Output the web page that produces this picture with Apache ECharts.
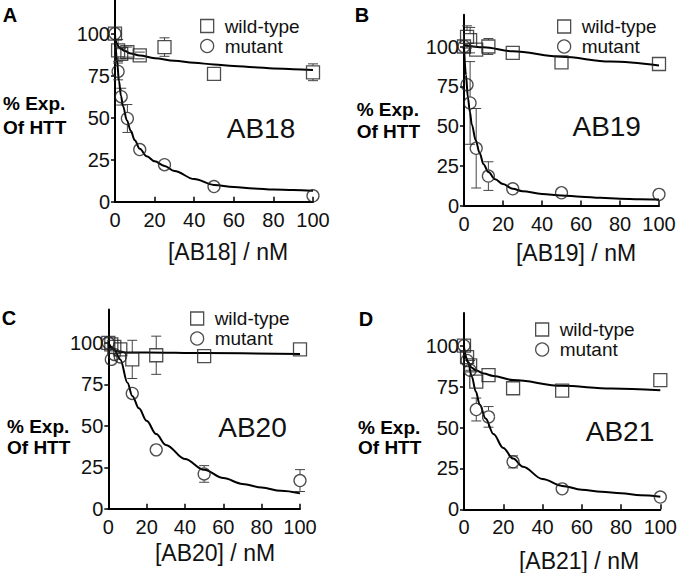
<!DOCTYPE html>
<html><head><meta charset="utf-8">
<script src="https://cdn.jsdelivr.net/npm/echarts@6/dist/echarts.min.js"></script>
<style>html,body{margin:0;padding:0;background:#fff}#c{width:680px;height:573px}</style>
</head><body><div id="c"></div>
<script>
// concentrations (nM)
const xs = [0, 1.56, 3.125, 6.25, 12.5, 25, 50, 100];
const xTicks = [0, 20, 40, 60, 80, 100];
const yTicks = [0, 25, 50, 75, 100];
const panelLetters = ['A', 'B', 'C', 'D'];
const compounds = ['AB18', 'AB19', 'AB20', 'AB21'];
const xTitles = ['[AB18] / nM', '[AB19] / nM', '[AB20] / nM', '[AB21] / nM'];
const yTitle1 = '% Exp.';
const yTitle2 = 'Of HTT';

// Panel A (AB18)
const wtA = [100, 90, 88, 89, 87, 92, 76, 77];
const wtAErr = [0, 6.5, 3, 3, 2, 5.5, 0, 5];
const mutA = [100, 77.5, 62.5, 49.5, 31, 22, 9, 3.5];
const mutAErr = [0, 5, 5, 8.3, 0, 0, 0, 0];
const fitAwtX = [0, 1, 2, 3, 5, 8, 12.5, 20, 30, 40, 50, 60, 70, 80, 90, 100];
const fitAwtY = [97, 94, 92, 91, 89.6, 88.2, 87, 85.4, 83.8, 82.6, 81.7, 80.8, 80, 79.3, 78.8, 78.3];
const fitAmutX = [0, 1, 2, 3, 4, 6, 8, 10, 12.5, 16, 20, 25, 30, 40, 50, 60, 70, 80, 90, 100];
const fitAmutY = [100, 84, 72, 63, 57, 48.5, 42, 36.5, 31.5, 27, 24, 21.3, 18.3, 13.5, 10, 8.8, 7.9, 7.3, 6.9, 6.5];

// Panel B (AB19)
const wtB = [100, 106, 104, 98, 100, 96, 90, 89];
const wtBErr = [0, 7, 8, 0, 5, 0, 0, 0];
const mutB = [100, 76, 64.5, 36, 18.5, 10.5, 8, 7];
const mutBErr = [0, 0, 26, 25, 9, 0, 0, 0];
const fitBwtX = [0, 10, 25, 50, 75, 100];
const fitBwtY = [101, 99.5, 97, 93.5, 90.5, 88];
const fitBmutX = [0, 1, 2, 3, 4, 6, 8, 10, 12.5, 16, 20, 25, 30, 40, 50, 60, 70, 80, 90, 100];
const fitBmutY = [100, 82, 68, 59, 51, 41, 33, 26, 21, 16.5, 13.5, 10.5, 9, 7.3, 6.3, 5.5, 4.8, 4.3, 4, 3.8];

// Panel C (AB20)
const wtC = [100, 99, 97.5, 96, 90, 92.5, 92, 96];
const wtCErr = [0, 0, 0, 0, 11.5, 11.5, 0, 0];
const mutC = [100, 90, 93, 91.5, 69.5, 35.5, 21, 17];
const mutCErr = [0, 0, 0, 0, 0, 0, 5, 6.6];
const fitCwtX = [0, 2, 4, 6, 10, 20, 50, 100];
const fitCwtY = [99.5, 97, 95.2, 94.5, 94.2, 94.2, 93.8, 93.3];
const fitCmutX = [0, 3, 6.25, 10, 12.5, 16, 20, 25, 30, 40, 50, 60, 70, 80, 90, 100];
const fitCmutY = [100, 96, 90, 76, 68, 60.5, 53, 45, 38.5, 30, 23.5, 18.5, 15, 12.8, 10.8, 9.3];

// Panel D (AB21)
const wtD = [100, 93, 88, 78, 82, 74, 72.5, 79];
const wtDErr = [0, 0, 3, 0, 0, 0, 0, 0];
const mutD = [100, 91, 85, 61, 56.5, 29, 12.5, 7.5];
const mutDErr = [0, 0, 0, 7, 6.3, 3.7, 0, 0];
const fitDwtX = [0, 1, 2, 4, 6, 10, 15, 25, 50, 75, 100];
const fitDwtY = [98, 93, 90, 86.5, 85, 83, 81.5, 79, 75.5, 73.8, 72.8];
const fitDmutX = [0, 2, 4, 6, 8, 11, 15, 20, 25, 30, 40, 50, 60, 70, 80, 90, 100];
const fitDmutY = [99, 90, 81, 72, 64, 55.5, 46, 37.5, 31, 26, 18.5, 14.3, 12, 10.8, 9.8, 8.6, 7.7];

const panels = [
  {wt: wtA, wtE: wtAErr, mut: mutA, mutE: mutAErr, fwx: fitAwtX, fwy: fitAwtY, fmx: fitAmutX, fmy: fitAmutY},
  {wt: wtB, wtE: wtBErr, mut: mutB, mutE: mutBErr, fwx: fitBwtX, fwy: fitBwtY, fmx: fitBmutX, fmy: fitBmutY},
  {wt: wtC, wtE: wtCErr, mut: mutC, mutE: mutCErr, fwx: fitCwtX, fwy: fitCwtY, fmx: fitCmutX, fmy: fitCmutY},
  {wt: wtD, wtE: wtDErr, mut: mutD, mutE: mutDErr, fwx: fitDwtX, fwy: fitDwtY, fmx: fitDmutX, fmy: fitDmutY}
];

// layout (pixels)
const grids = [
  {left: 115, top: -1.6, width: 198, height: 203.3},
  {left: 464, top: 14.7, width: 195, height: 190.8},
  {left: 108.3, top: 309.6, width: 191.7, height: 199.2},
  {left: 464, top: 313, width: 200, height: 196.3}
];
const legendPos = [{left: 195, top: 11.5}, {left: 552, top: 12}, {left: 185, top: 304}, {left: 530, top: 315}];
const letterPos = [[10, 15], [362, 15], [9, 318], [366, 319]];
const compPos = [[261, 128], [606.7, 126], [252.5, 427.5], [620, 431]];
const yNamePos = [[3, 103, 127], [356.7, 109, 131], [7, 426.5, 447], [358, 427.5, 447]];
const xNamePos = [[228, 252], [576, 253], [215, 553], [579, 561]];

const FONT = '"Liberation Sans", Arial, Helvetica, sans-serif';
const INK = '#111';
const MARK = '#222';

function errRender(params, api) {
  const x = api.value(0), y = api.value(1), e = api.value(2);
  const t = api.coord([x, y + e]), b = api.coord([x, y - e]), m = api.coord([x, y]);
  const h = 6.5, w = 5;
  const st = {stroke: '#444', lineWidth: 1, fill: null};
  const ch = [
    {type: 'line', shape: {x1: t[0] - w, y1: t[1], x2: t[0] + w, y2: t[1]}, style: st},
    {type: 'line', shape: {x1: b[0] - w, y1: b[1], x2: b[0] + w, y2: b[1]}, style: st}
  ];
  if (t[1] < m[1] - h) ch.push({type: 'line', shape: {x1: t[0], y1: t[1], x2: t[0], y2: m[1] - h}, style: st});
  if (b[1] > m[1] + h) ch.push({type: 'line', shape: {x1: b[0], y1: m[1] + h, x2: b[0], y2: b[1]}, style: st});
  return {type: 'group', children: ch};
}

const xAxis = [], yAxis = [], series = [], legend = [], graphic = [];
panels.forEach((p, i) => {
  xAxis.push({
    type: 'value', gridIndex: i, min: 0, max: 100, interval: 20,
    axisLine: {show: true, onZero: false, lineStyle: {color: '#000', width: 2}},
    axisTick: {show: true, inside: true, length: 5, lineStyle: {color: '#000', width: 1.5}},
    axisLabel: {margin: 8, fontSize: 20, color: INK, fontFamily: FONT},
    splitLine: {show: false}
  });
  yAxis.push({
    type: 'value', gridIndex: i, min: 0, max: 120, interval: 25,
    axisLine: {show: true, onZero: false, lineStyle: {color: '#000', width: 2}},
    axisTick: {show: true, inside: false, length: 4, customValues: yTicks, lineStyle: {color: '#000', width: 1.5}},
    axisLabel: {margin: 5, fontSize: 20, color: INK, fontFamily: FONT, customValues: yTicks},
    splitLine: {show: false}
  });
  const wtData = xs.map((x, k) => [x, p.wt[k]]);
  const mutData = xs.map((x, k) => [x, p.mut[k]]);
  const wtErr = xs.map((x, k) => [x, p.wt[k], p.wtE[k]]).filter(d => d[2] > 0);
  const mutErr = xs.map((x, k) => [x, p.mut[k], p.mutE[k]]).filter(d => d[2] > 0);
  series.push({
    name: 'wild-type fit', type: 'line', xAxisIndex: i, yAxisIndex: i,
    data: p.fwx.map((x, k) => [x, p.fwy[k]]), smooth: 0.35, smoothMonotone: 'x',
    showSymbol: false, symbol: 'none', lineStyle: {color: '#000', width: 2}, z: 3, silent: true
  });
  series.push({
    name: 'mutant fit', type: 'line', xAxisIndex: i, yAxisIndex: i,
    data: p.fmx.map((x, k) => [x, p.fmy[k]]), smooth: 0.35, smoothMonotone: 'x',
    showSymbol: false, symbol: 'none', lineStyle: {color: '#000', width: 2}, z: 3, silent: true
  });
  series.push({
    name: 'wild-type error', type: 'custom', xAxisIndex: i, yAxisIndex: i,
    renderItem: errRender, data: wtErr, z: 2, silent: true
  });
  series.push({
    name: 'mutant error', type: 'custom', xAxisIndex: i, yAxisIndex: i,
    renderItem: errRender, data: mutErr, z: 2, silent: true
  });
  series.push({
    name: 'wild-type', type: 'scatter', xAxisIndex: i, yAxisIndex: i, data: wtData,
    symbol: 'rect', symbolSize: 13,
    itemStyle: {color: 'rgba(255,255,255,0)', borderColor: MARK, borderWidth: 1.3}, z: 4
  });
  series.push({
    name: 'mutant', type: 'scatter', xAxisIndex: i, yAxisIndex: i, data: mutData,
    symbol: 'circle', symbolSize: 12,
    itemStyle: {color: 'rgba(255,255,255,0)', borderColor: MARK, borderWidth: 1.3}, z: 4
  });
  legend.push({
    left: legendPos[i].left, top: legendPos[i].top, orient: 'vertical',
    itemWidth: 13, itemHeight: 13, itemGap: 1,
    data: [{name: 'wild-type', icon: 'rect'}, {name: 'mutant', icon: 'circle'}],
    itemStyle: {color: 'rgba(255,255,255,0)', borderColor: MARK, borderWidth: 1.3},
    textStyle: {fontSize: 19, color: INK, fontFamily: FONT, lineHeight: 19, padding: [0, 0, 0, 6]},
    selectedMode: false
  });
  graphic.push({type: 'text', x: letterPos[i][0], y: letterPos[i][1],
    style: {text: panelLetters[i], fontSize: 20, fontWeight: 'bold', fontFamily: FONT, fill: '#000', align: 'center', verticalAlign: 'middle'}});
  graphic.push({type: 'text', x: compPos[i][0], y: compPos[i][1],
    style: {text: compounds[i], fontSize: 28, fontFamily: FONT, fill: INK, align: 'center', verticalAlign: 'middle'}});
  graphic.push({type: 'text', x: yNamePos[i][0], y: yNamePos[i][1],
    style: {text: yTitle1, fontSize: 19, fontWeight: 'bold', fontFamily: FONT, fill: '#000', align: 'left', verticalAlign: 'middle'}});
  graphic.push({type: 'text', x: yNamePos[i][0], y: yNamePos[i][2],
    style: {text: yTitle2, fontSize: 19, fontWeight: 'bold', fontFamily: FONT, fill: '#000', align: 'left', verticalAlign: 'middle'}});
  graphic.push({type: 'text', x: xNamePos[i][0], y: xNamePos[i][1],
    style: {text: xTitles[i], fontSize: 23, fontFamily: FONT, fill: INK, align: 'center', verticalAlign: 'middle'}});
});

const chart = echarts.init(document.getElementById('c'), null, {renderer: 'svg'});
chart.setOption({
  backgroundColor: '#fff',
  animation: false,
  grid: grids,
  xAxis: xAxis,
  yAxis: yAxis,
  legend: legend,
  series: series,
  graphic: graphic
});
</script>
</body></html>
